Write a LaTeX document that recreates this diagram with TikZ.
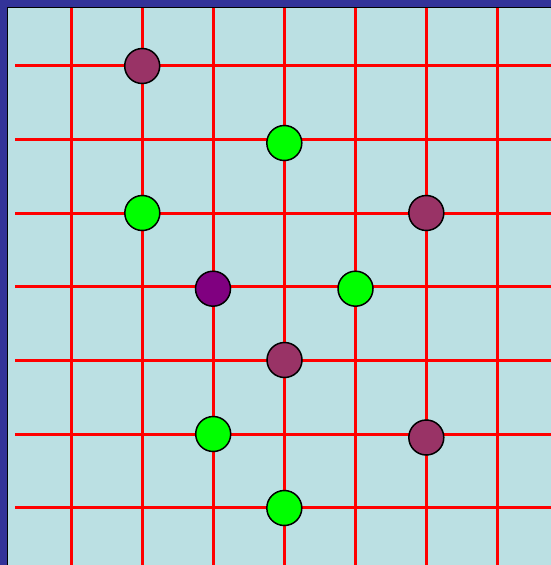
\documentclass[tikz,border=0pt]{standalone}
\definecolor{bordblue}{HTML}{333399}
\definecolor{bgcyan}{HTML}{BBE0E3}
\definecolor{maroonc}{HTML}{993366}
\definecolor{purplec}{HTML}{800080}
\definecolor{greenc}{HTML}{00FF00}
\tikzset{
  gridline/.style={draw=red, line width=3pt},
  dot/.style={circle, draw=black, line width=1.5pt, minimum size=35pt, inner sep=0pt},
  mdot/.style={dot, fill=maroonc},
  gdot/.style={dot, fill=greenc},
  pdot/.style={dot, fill=purplec}
}
\begin{document}
\begin{tikzpicture}[x=1pt,y=-1pt]
\useasboundingbox (0,0) rectangle (551,565);
\fill[bordblue] (0,0) rectangle (551,565);
\filldraw[fill=bgcyan, draw=black, line width=1pt] (7,7) rectangle (560,575);
\foreach \x in {71,142.3,213.3,284.3,355.5,426.7,497.8}
  \draw[gridline] (\x,7.5) -- (\x,565);
\foreach \y in {65.7,139.4,213.1,286.8,360.5,434.2,507.9}
  \draw[gridline] (15,\y) -- (551,\y);
\node[mdot] (a) at (142.2,66) {};
\node[gdot] (b) at (284.3,143) {};
\node[gdot] (c) at (142.3,213) {};
\node[mdot] (d) at (426.3,213) {};
\node[pdot] (e) at (213,288.7) {};
\node[gdot] (f) at (355.5,288.7) {};
\node[mdot] (g) at (284.5,360) {};
\node[gdot] (h) at (213.2,434) {};
\node[mdot] (i) at (426.3,437.5) {};
\node[gdot] (j) at (284.3,508) {};
\end{tikzpicture}
\end{document}
